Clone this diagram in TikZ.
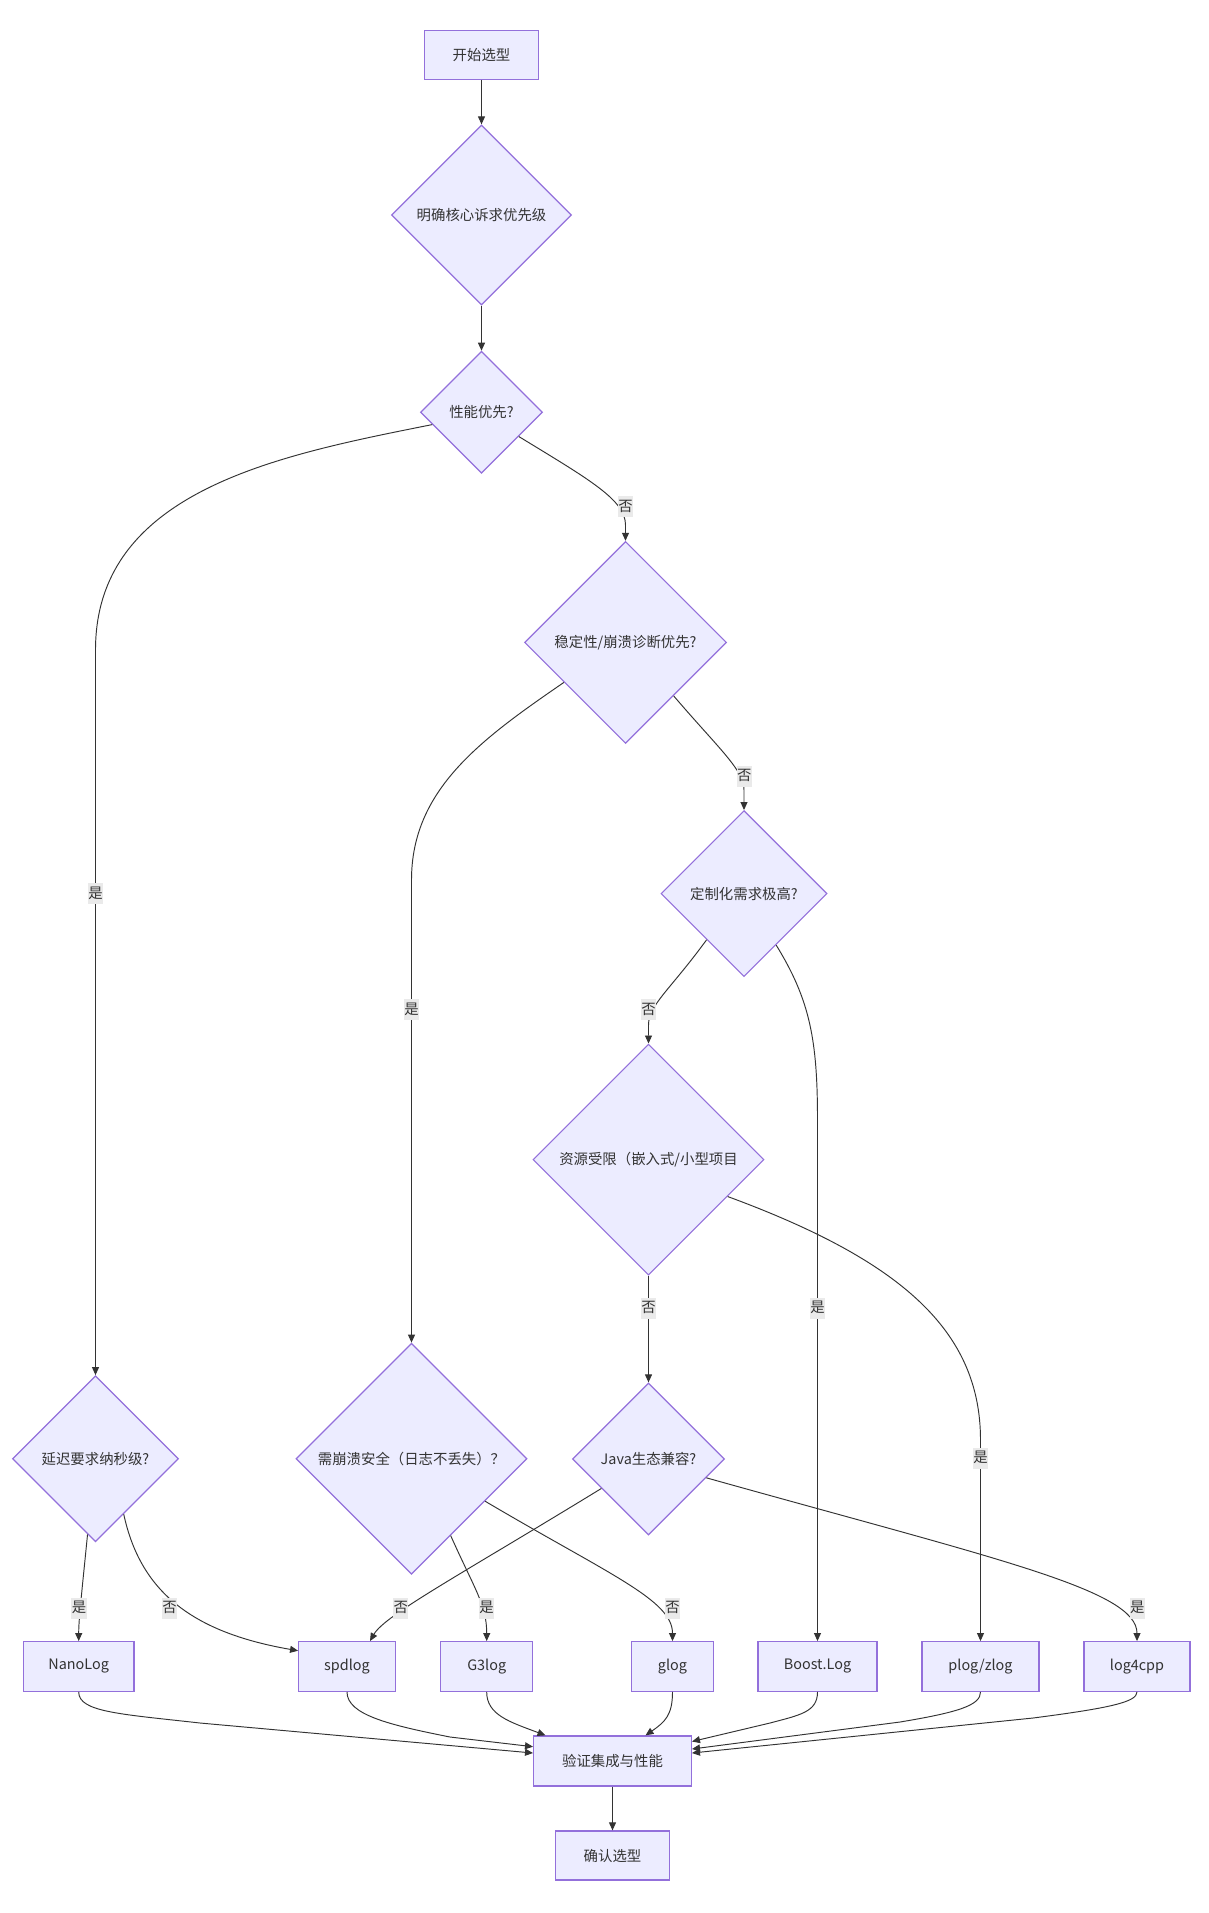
\documentclass[tikz,border=0pt]{standalone}
\usepackage{fontspec}
\setmainfont{Noto Sans CJK SC}
\usetikzlibrary{shapes.geometric,arrows.meta}
\definecolor{nodefill}{HTML}{ECECFF}
\definecolor{nodeline}{HTML}{9370DB}
\definecolor{edgeline}{HTML}{333333}
\definecolor{labelbg}{RGB}{234,234,234}
\definecolor{txt}{HTML}{333333}
\begin{document}
\begin{tikzpicture}[x=1pt,y=-1pt,
  every node/.style={font=\fontsize{14.4pt}{17pt}\selectfont, text=txt},
  procbox/.style={draw=nodeline, fill=nodefill, line width=1.3pt, rectangle, inner sep=0pt, minimum height=49.6pt},
  decision/.style={draw=nodeline, fill=nodefill, line width=1.2pt, diamond, aspect=1, inner sep=0pt},
  flow/.style={draw=edgeline, line width=0.95pt, -{Triangle[length=8pt,width=7pt]}},
  elabel/.style={fill=labelbg, inner xsep=0.5pt, inner ysep=2.5pt, text height=12.5pt, text depth=3.5pt}
]
\useasboundingbox[fill=white] (0,0) rectangle (1208,1913);

% nodes
\node[procbox, minimum width=113.7pt] (start) at (481.5,55) {开始选型};
\node[decision, minimum size=180pt] (d1) at (481.5,215) {明确核心诉求优先级};
\node[decision, minimum size=122pt] (d2) at (481.5,412.3) {性能优先?};
\node[decision, minimum size=202pt] (d3) at (625.5,642.4) {稳定性/崩溃诊断优先?};
\node[decision, minimum size=166pt] (d4) at (744,893.6) {定制化需求极高?};
\node[decision, minimum size=231pt] (d5) at (648.5,1159.6) {资源受限（嵌入式/小型项目};
\node[decision, minimum size=152pt] (d6) at (648.5,1459) {Java生态兼容?};
\node[decision, minimum size=166pt] (d7) at (95.5,1458.7) {延迟要求纳秒级?};
\node[decision, minimum size=231pt] (d8) at (411.5,1458.7) {需崩溃安全（日志不丢失）？};

\node[procbox, minimum width=110.7pt] (nano) at (78.7,1666.5) {NanoLog};
\node[procbox, minimum width=96.6pt] (spd) at (347,1666.5) {spdlog};
\node[procbox, minimum width=92pt] (g3) at (486.7,1666.5) {G3log};
\node[procbox, minimum width=81.6pt] (glog) at (672.5,1666.5) {glog};
\node[procbox, minimum width=119pt] (boost) at (817.5,1666.5) {Boost.Log};
\node[procbox, minimum width=117pt] (plog) at (980.5,1666.5) {plog/zlog};
\node[procbox, minimum width=106pt] (log4) at (1137,1666.5) {log4cpp};

\node[procbox, minimum width=157.7pt, minimum height=50pt] (ver) at (612.5,1761) {验证集成与性能};
\node[procbox, minimum width=113.7pt, minimum height=49pt] (conf) at (612.5,1855.5) {确认选型};

% edges
\draw[flow] (start) -- (d1);
\draw[flow] (d1) -- (d2);
\draw[flow] (d2.194) .. controls (280,455) and (95.5,490) .. (95.5,650) -- (d7.north);
\draw[flow] (d2.327) .. controls (590,480) and (625.5,500) .. (625.5,525) -- (d3.north);
\draw[flow] (d3.213.4) .. controls (480,740) and (411.5,790) .. (411.5,880) -- (d8.north);
\draw[flow] (d3.312.4) .. controls (720,750) and (744,770) .. (744,790) -- (d4.north);
\draw[flow] (d4.231.4) .. controls (670,990) and (648.5,1005) .. (648.5,1025) -- (d5.north);
\draw[flow] (d4.302.6) .. controls (810,1000) and (817.5,1040) .. (817.5,1120) -- (boost.north);
\draw[flow] (d5) -- (d6);
\draw[flow] (d5.335.5) .. controls (900,1260) and (980.5,1330) .. (980.5,1440) -- (plog.north);
\draw[flow] (d7.264.5) .. controls (81,1600) and (78.7,1620) .. (nano.north);
\draw[flow] (d7.297) .. controls (140,1590) and (190,1632) .. ([yshift=15.8pt]spd.west);
\draw[flow] (d8.297) .. controls (475,1590) and (486.7,1605) .. (g3.north);
\draw[flow] (d8.330.2) .. controls (610,1575) and (672.5,1600) .. (glog.north);
\draw[flow] (d6.212) .. controls (460,1575) and (385,1615) .. ([xshift=23pt]spd.north);
\draw[flow] (d6.342.2) .. controls (1000,1560) and (1137,1590) .. (log4.north);

\draw[flow] (nano.south) .. controls (78.7,1712) and (120,1714) .. (200,1723) -- ([yshift=8pt]ver.west);
\draw[flow] (spd.south) .. controls (347,1715) and (390,1725) .. (450,1737) -- ([yshift=14.3pt]ver.west);
\draw[flow] (g3.south) .. controls (486.7,1715) and (510,1722) .. ([xshift=-67pt]ver.north);
\draw[flow] (glog.south) .. controls (672.5,1715) and (665,1722) .. ([xshift=33pt]ver.north);
\draw[flow] (boost.south) .. controls (817.5,1712) and (800,1715) .. (770,1723) -- ([yshift=19.5pt]ver.east);
\draw[flow] (plog.south) .. controls (980.5,1705) and (960,1712) .. (900,1722) -- ([yshift=12pt]ver.east);
\draw[flow] (log4.south) .. controls (1137,1702) and (1110,1708) .. (1033,1718) -- ([yshift=8pt]ver.east);
\draw[flow] (ver) -- (conf);

% edge labels
\node[elabel] (l1) at (95.5,893.8) {是};
\node[elabel] (l2) at (625.6,506.6) {否};
\node[elabel] (l3) at (411.5,1009.8) {是};
\node[elabel] (l4) at (744.2,776.3) {否};
\node[elabel] (l5) at (648.5,1009.8) {否};
\node[elabel] (l6) at (817.5,1308) {是};
\node[elabel] (l7) at (648.5,1308) {否};
\node[elabel] (l8) at (980.6,1458.3) {是};
\node[elabel] (l9) at (79,1608) {是};
\node[elabel] (l10) at (169.5,1608) {否};
\node[elabel] (l11) at (400.7,1608) {否};
\node[elabel] (l12) at (486.5,1608) {是};
\node[elabel] (l13) at (672.5,1608) {否};
\node[elabel] (l14) at (1137.3,1608) {是};
\end{tikzpicture}
\end{document}
